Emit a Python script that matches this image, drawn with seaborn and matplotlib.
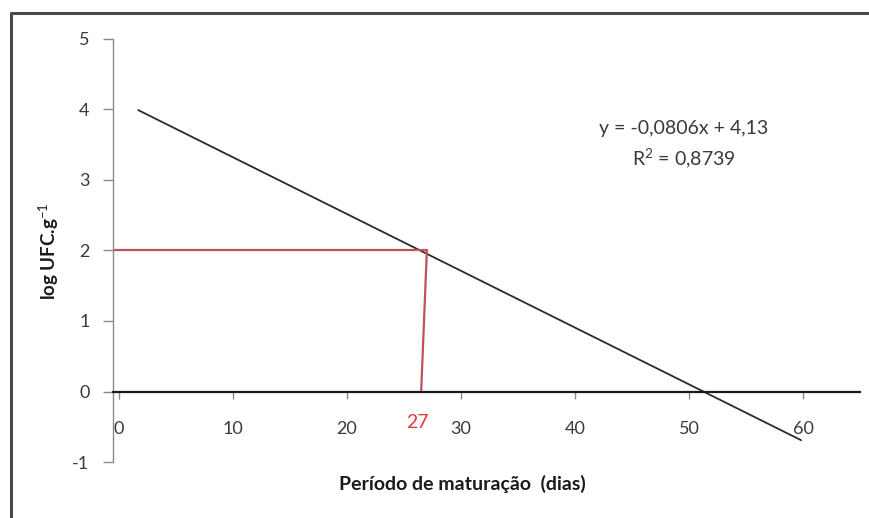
import matplotlib
matplotlib.use("Agg")
import matplotlib.pyplot as plt
import seaborn as sns
import pandas as pd

# trend line
trend_x = [1.7, 59.8]
trend_y = [3.99, -0.69]
# red guide lines (log UFC = 2 -> about 27 days), horizontal one starts at the y axis
guide_h_x = [-0.5, 27.0]
guide_h_y = [2.0, 2.0]
guide_v_x = [27.0, 26.5]
guide_v_y = [2.0, 0.0]

x_ticks = [0, 10, 20, 30, 40, 50, 60]
y_ticks = [-1, 0, 1, 2, 3, 4, 5]
equation = "y = -0,0806x + 4,13"
r2_text = "R$^2$ = 0,8739"
marked_day = "27"


def plot_nicer(ax):
    """Excel like look: y spine on the left, x spine through zero"""
    ax.spines["top"].set_visible(False)
    ax.spines["right"].set_visible(False)
    ax.spines["bottom"].set_position(("data", 0))
    ax.spines["bottom"].set_color("#1a1a1a")
    ax.spines["bottom"].set_linewidth(1.6)
    ax.spines["left"].set_color("#8a8a8a")
    ax.spines["left"].set_linewidth(1.0)
    ax.tick_params(axis="y", direction="out", length=7, width=1, color="#8a8a8a",
                   pad=10, labelsize=13, labelcolor="#3a3a3a", left=True)
    ax.tick_params(axis="x", direction="out", length=5, width=1, color="#8a8a8a",
                   pad=16, labelsize=13, labelcolor="#3a3a3a", bottom=True)


sns.set_style("ticks")
plt.rcParams["font.family"] = ["Lato", "DejaVu Sans"]
plt.rcParams["mathtext.fontset"] = "custom"
plt.rcParams["mathtext.rm"] = "Lato"
plt.rcParams["mathtext.bf"] = "Lato:bold"

fig = plt.figure(figsize=(8.7, 5.18), dpi=100)
ax = fig.add_axes([0.130, 0.108, 0.859, 0.817])

trend = pd.DataFrame({"x": trend_x, "y": trend_y})
sns.lineplot(data=trend, x="x", y="y", color="#2b2b2b", linewidth=1.3, ax=ax)
sns.lineplot(x=guide_h_x, y=guide_h_y, color="#c0505a", linewidth=1.6, ax=ax)
sns.lineplot(x=guide_v_x, y=guide_v_y, color="#c0505a", linewidth=1.6, ax=ax)

ax.set_xlim(-0.5, 65)
ax.set_ylim(-1, 5)
ax.set_xticks(x_ticks)
ax.set_yticks(y_ticks)
ax.set_xticklabels([str(t) for t in x_ticks])
ax.set_yticklabels([str(t) for t in y_ticks])
ax.set_xlabel("")
ax.set_ylabel("")
plot_nicer(ax)

# red day label under the axis
ax.text(26.2, -0.44, marked_day, color="#e03a3a", fontsize=14,
        ha="center", va="center")

# regression equation
ax.text(49.5, 3.73, equation, ha="center", va="center", fontsize=14, color="#3a3a3a")
ax.text(49.5, 3.3, r2_text, ha="center", va="center", fontsize=14, color="#3a3a3a")

# axis titles
fig.text(0.532, 0.066, "Período de maturação  (dias)", ha="center", va="center",
         fontsize=14, fontweight="bold", color="#1a1a1a")
fig.text(0.056, 0.515, r"$\mathbf{log}$ UFC.g$^{-1}$", ha="center", va="center",
         rotation=90, fontsize=13.5, fontweight="bold", color="#1a1a1a")

# frame of the original screenshot
fig.add_artist(plt.Line2D([0.0126, 1.0], [0.975, 0.975], transform=fig.transFigure,
                          color="#4a4a4a", linewidth=2.2))
fig.add_artist(plt.Line2D([0.0126, 0.0126], [0.0, 0.975], transform=fig.transFigure,
                          color="#4a4a4a", linewidth=2.2))

fig.savefig("out.png", dpi=100)
plt.close(fig)
